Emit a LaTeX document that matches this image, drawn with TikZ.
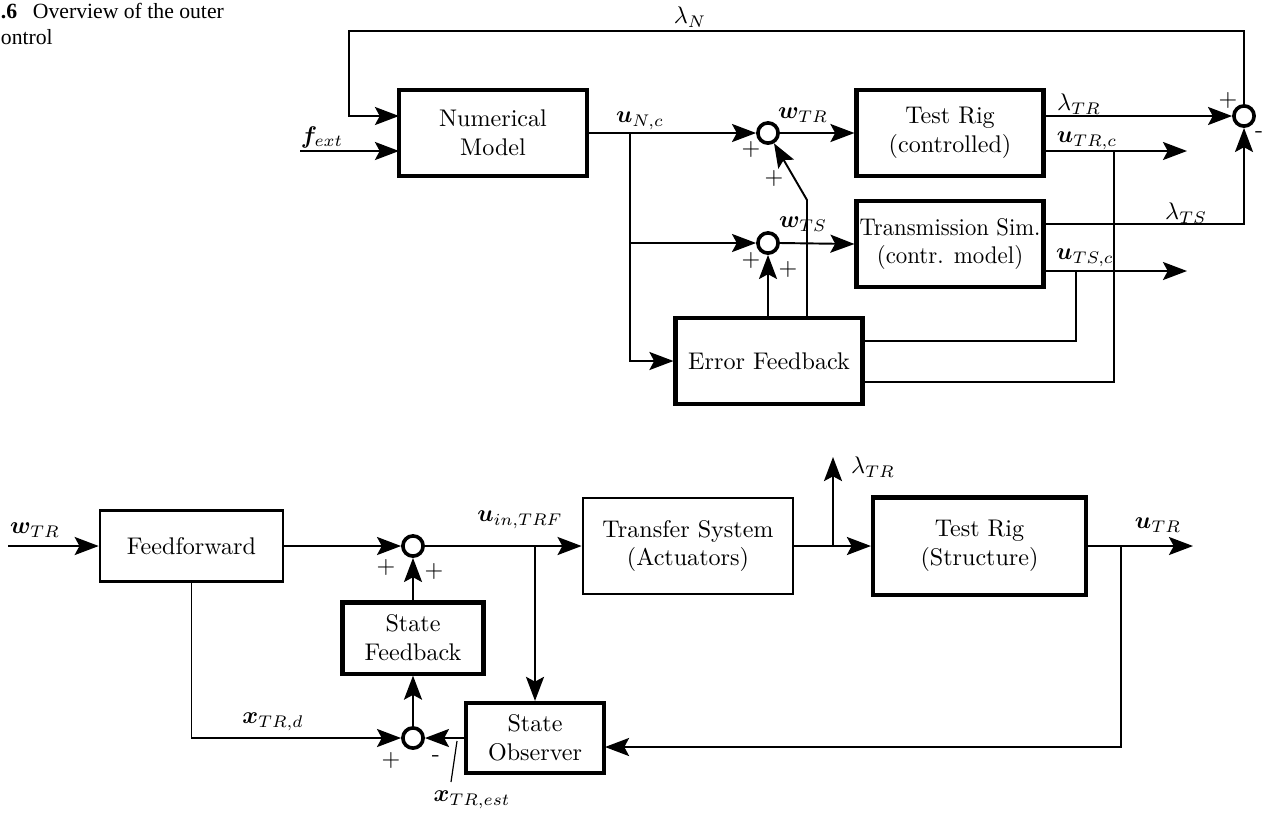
\documentclass[tikz,border=0pt]{standalone}
\usepackage{amsmath}
\usepackage{bm}
\usepackage{fontspec}
\newfontfamily\capfont{Liberation Serif}
\usetikzlibrary{arrows.meta,calc}
\begin{document}
\begin{tikzpicture}[x=0.415pt,y=-0.415pt,
  line width=0.8pt,
  arr/.style={-{Stealth[length=10pt,width=7.5pt,inset=2pt]}},
  tbox/.style={draw,line width=1.7pt,align=center,inner sep=0pt},
  mbox/.style={draw,line width=1.1pt,align=center,inner sep=0pt},
  sumc/.style={draw,circle,line width=1.5pt,minimum size=8.4pt,inner sep=0pt},
  lbl/.style={inner sep=0pt},
  capt/.style={font=\capfont\fontsize{9}{11}\selectfont,inner sep=0pt,anchor=base west}]
\useasboundingbox (0,0) rectangle (1273,818);

% caption
\node[capt] (cap1) at (0,18) {\textbf{.6}};
\node[capt] (cap2) at (32,18) {Overview of the outer};
\node[capt] (cap3) at (0,44) {ontrol};

% ---------------- top diagram ----------------
\node[tbox,minimum width=78pt,minimum height=35.7pt] (NM) at (493,133) {Numerical\\Model};
\node[tbox,minimum width=77.6pt,minimum height=35.7pt] (TRc) at (950,133) {Test Rig\\(controlled)};
\node[tbox,minimum width=77.6pt,minimum height=35.7pt] (TS) at (950,244) {\scalebox{0.94}[1]{Transmission Sim.}\\\scalebox{0.95}[1]{(contr. model)}};
\node[tbox,minimum width=77.6pt,minimum height=35.7pt] (EF) at (769,361) {Error Feedback};

\node[sumc] (s1) at (768,133) {};
\node[sumc] (s2) at (768,243) {};
\node[sumc] (s3) at (1244,116) {};

\coordinate (lnT) at (349,31);
\coordinate (nmIn1) at (399,116);
\coordinate (nmIn2) at (399,151);
\coordinate (fin) at (300,151);
\coordinate (brA) at (630,133);
\coordinate (kink) at (807,200);
\coordinate (trOut1) at (1044,116);
\coordinate (trOut2) at (1044,151);
\coordinate (trEnd) at (1187,151);
\coordinate (tsOut1) at (1044,224);
\coordinate (tsOut2) at (1044,271);
\coordinate (tsEnd) at (1187,271);
\coordinate (efOut1) at (863,341);
\coordinate (efOut2) at (863,382);
\coordinate (brTS) at (1076,271);
\coordinate (brTR) at (1114,151);

\draw[arr] (s3.north) -- (s3.north |- lnT) -- (lnT) |- (nmIn1);
\draw[arr] (fin) -- (nmIn2);
\draw[arr] (NM.east) -- (s1.west);
\draw[arr] (brA) |- (EF.west);
\draw[arr] (brA |- s2) -- (s2.west);
\draw[arr] (s1.east) -- (TRc.west);
\draw[arr] (s2.east) -- (TS.west);
\draw[arr] (EF.north -| s2) -- (s2.south);
\draw[arr] (EF.north -| kink) -- (kink) -- (s1);
\draw[arr] (trOut1) -- (s3.west);
\draw[arr] (trOut2) -- (trEnd);
\draw[arr] (tsOut1) -| (s3.south);
\draw[arr] (tsOut2) -- (tsEnd);
\draw (efOut1) -| (brTS);
\draw (efOut2) -| (brTR);

\node[lbl] (lN) at (690,17) {$\lambda_N$};
\node[lbl] (lf) at (322,137) {$\bm{f}_{ext}$};
\node[lbl] (luN) at (640,121) {$\bm{u}_{N,c}$};
\node[lbl] (lwTR) at (803,115) {$\bm{w}_{TR}$};
\node[lbl] (lwTS) at (803,224) {$\bm{w}_{TS}$};
\node[lbl] (llTR) at (1079,104) {$\lambda_{TR}$};
\node[lbl] (luTR) at (1087,141) {$\bm{u}_{TR,c}$};
\node[lbl] (llTS) at (1186,213) {$\lambda_{TS}$};
\node[lbl] (luTS) at (1085,258) {$\bm{u}_{TS,c}$};
\node[lbl] (p1) at (751,149) {$+$};
\node[lbl] (p2) at (774,178) {$+$};
\node[lbl] (p3) at (751,260) {$+$};
\node[lbl] (p4) at (788,269) {$+$};
\node[lbl] (p5) at (1228,100) {$+$};
\node[lbl] (m1) at (1259,135) {-};

% ---------------- bottom diagram ----------------
\node[mbox,minimum width=75.9pt,minimum height=29.5pt] (FF) at (191.5,546) {Feedforward};
\node[tbox,minimum width=58.5pt,minimum height=29.5pt] (SF) at (413,638) {State\\Feedback};
\node[tbox,minimum width=57.3pt,minimum height=29.1pt] (SO) at (535,738) {State\\Observer};
\node[mbox,minimum width=87.2pt,minimum height=39.8pt] (TSys) at (688,546) {Transfer System\\(Actuators)};
\node[tbox,minimum width=88.4pt,minimum height=40.3pt] (TRS) at (979.5,546) {Test Rig\\(Structure)};

\node[sumc] (b1) at (413,546) {};
\node[sumc] (b2) at (413,738) {};

\coordinate (bin) at (8,546);
\coordinate (lamUp) at (833,457);
\coordinate (brL) at (833,546);
\coordinate (uOut) at (1193,546);
\coordinate (brU) at (1121,546);
\coordinate (obsIn) at (605,747);
\coordinate (tk1) at (457,741);
\coordinate (tk2) at (451,782);

\draw[arr] (bin) -- (FF.west);
\draw[arr] (FF.east) -- (b1.west);
\draw[arr] (b1.east) -- (TSys.west);
\draw[arr] (SO.north |- b1) -- (SO.north);
\draw[arr] (TSys.east) -- (TRS.west);
\draw[arr] (brL) -- (lamUp);
\draw[arr] (TRS.east) -- (uOut);
\draw[arr] (brU) |- (obsIn);
\draw[arr] (SO.west) -- (b2.east);
\draw[arr] (b2.north) -- (SF.south);
\draw[arr] (SF.north) -- (b1.south);
\draw[arr] (FF.south) |- (b2.west);
\draw[line width=0.5pt] (tk1) -- (tk2);

\node[lbl] (lwin) at (35,530) {$\bm{w}_{TR}$};
\node[lbl] (luin) at (520,520) {$\bm{u}_{in,TRF}$};
\node[lbl] (llam) at (873,467) {$\lambda_{TR}$};
\node[lbl] (luout) at (1158,525) {$\bm{u}_{TR}$};
\node[lbl] (lxd) at (273,722) {$\bm{x}_{TR,d}$};
\node[lbl] (lxest) at (472,800) {$\bm{x}_{TR,est}$};
\node[lbl] (q1) at (386,567) {$+$};
\node[lbl] (q2) at (434,571) {$+$};
\node[lbl] (q3) at (391,760) {$+$};
\node[lbl] (q4) at (436,759) {-};
\end{tikzpicture}
\end{document}
